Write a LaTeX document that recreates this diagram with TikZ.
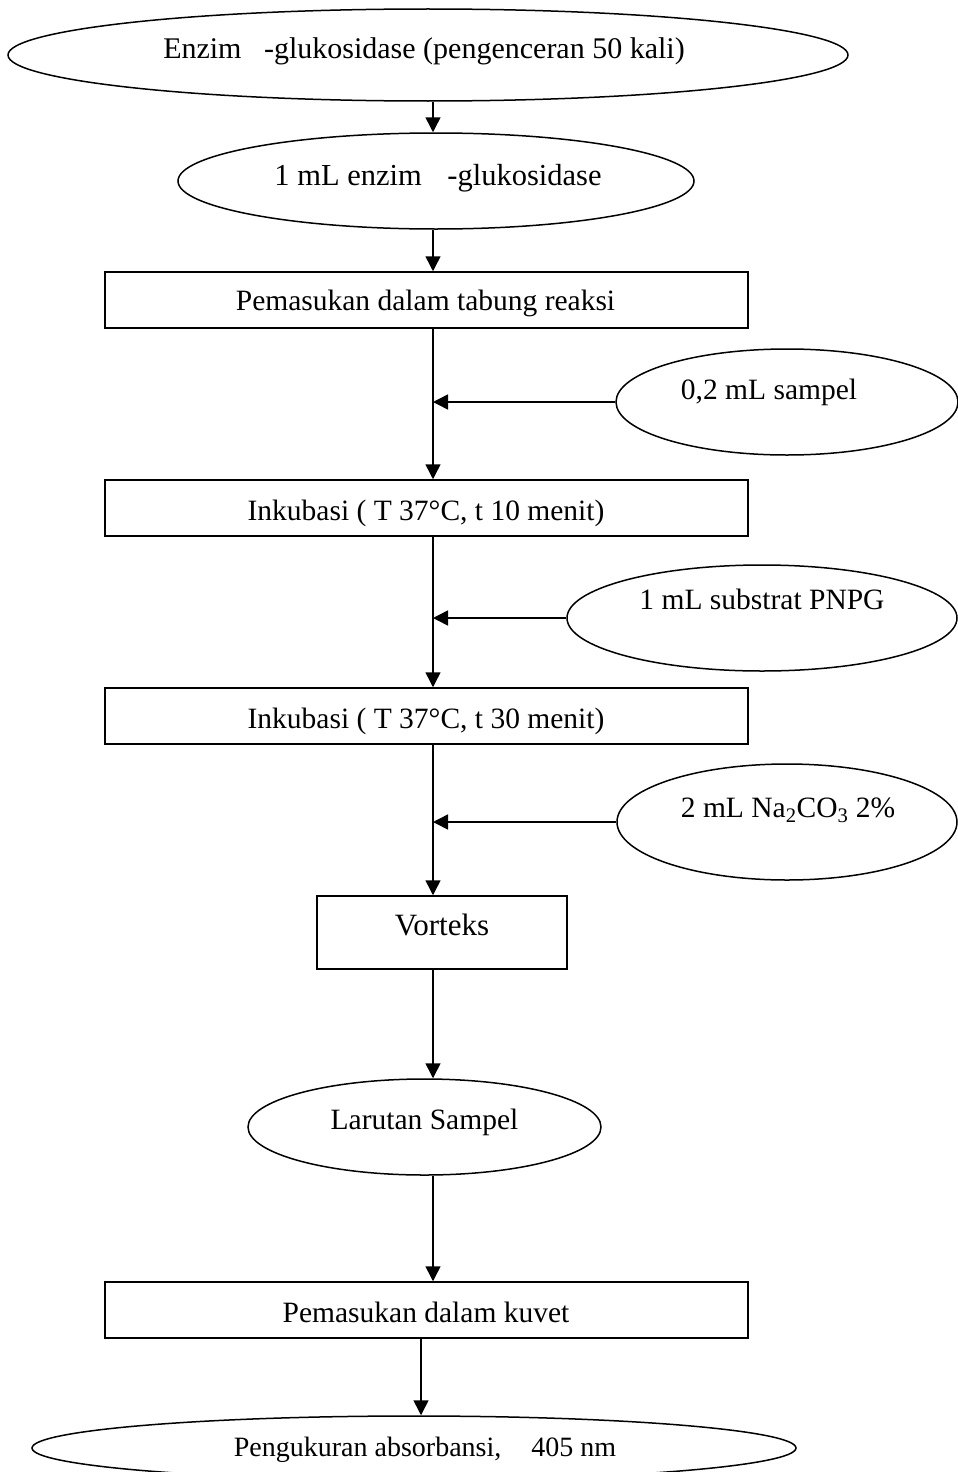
\documentclass[tikz,border=0pt]{standalone}
\usepackage{fontspec}
\setmainfont{Liberation Serif}
\usetikzlibrary{arrows.meta,shapes.geometric}
\begin{document}
\begin{tikzpicture}[x=1pt,y=-1pt,
  every node/.style={font=\fontsize{29.5pt}{34pt}\selectfont},
  frame/.style={draw, line width=1.5pt, inner sep=0pt},
  oval/.style={frame, ellipse},
  stepbox/.style={frame, rectangle, minimum width=643pt, minimum height=56pt},
  txt/.style={anchor=base, inner sep=0pt},
  arr/.style={line width=1.5pt, -{Triangle[length=15pt,width=15pt]}}
]
\useasboundingbox (0,0) rectangle (958,1472);

% main flow column
\coordinate (m) at (433,0);
\coordinate (mb) at (421,0);

% shapes
\node[oval, minimum width=840pt, minimum height=92pt] (top) at (428,55) {};
\node[oval, minimum width=516pt, minimum height=96pt] (enz) at (436,181) {};
\node[stepbox] (b1) at (426.5,300) {};
\node[oval, minimum width=342pt, minimum height=106pt] (s1) at (787,402) {};
\node[stepbox] (b2) at (426.5,508) {};
\node[oval, minimum width=390pt, minimum height=106pt] (s2) at (762,618) {};
\node[stepbox] (b3) at (426.5,716) {};
\node[oval, minimum width=340pt, minimum height=116pt] (s3) at (787,822) {};
\node[frame, rectangle, minimum width=250pt, minimum height=73pt] (vx) at (442,932.5) {};
\node[oval, minimum width=353pt, minimum height=96pt] (lar) at (424.5,1127) {};
\node[stepbox] (b4) at (426.5,1310) {};
\node[oval, minimum width=764pt, minimum height=64pt] (bot) at (414,1448) {};

% texts
\node[txt, font=\fontsize{30pt}{35pt}\selectfont] (ttop) at (424,59) {Enzim \hspace{15pt}-glukosidase (pengenceran 50 kali)};
\node[txt, font=\fontsize{30.5pt}{35pt}\selectfont] (tenz) at (438,185) {1 mL enzim \hspace{18pt}-glukosidase};
\node[txt] (tb1) at (425.5,310) {Pemasukan dalam tabung reaksi};
\node[txt] (ts1) at (769,399) {0,2 mL sampel};
\node[txt] (tb2) at (426,520) {Inkubasi ( T 37°C, t 10 menit)};
\node[txt] (ts2) at (762,609) {1 mL substrat PNPG};
\node[txt] (tb3) at (426,728) {Inkubasi ( T 37°C, t 30 menit)};
\node[txt] (ts3) at (788,817) {2 mL Na\textsubscript{2}CO\textsubscript{3} 2\%};
\node[txt, font=\fontsize{31pt}{36pt}\selectfont] (tvx) at (442,935) {Vorteks};
\node[txt] (tlar) at (424.5,1129) {Larutan Sampel};
\node[txt] (tb4) at (426,1322) {Pemasukan dalam kuvet};
\node[txt, font=\fontsize{28pt}{33pt}\selectfont] (tbot) at (425,1456) {Pengukuran absorbansi, \hspace{16pt} 405 nm};

% connectors
\draw[arr] (top.south -| m) -- (enz.north -| m);
\draw[arr] (enz.south -| m) -- (b1.north -| m);
\draw[arr] (b1.south -| m) -- (b2.north -| m);
\draw[arr] (s1.west) -- (s1.west -| m);
\draw[arr] (b2.south -| m) -- (b3.north -| m);
\draw[arr] (s2.west) -- (s2.west -| m);
\draw[arr] (b3.south -| m) -- (vx.north -| m);
\draw[arr] (s3.west) -- (s3.west -| m);
\draw[arr] (vx.south -| m) -- (lar.north -| m);
\draw[arr] (lar.south -| m) -- (b4.north -| m);
\draw[arr] (b4.south -| mb) -- (bot.north -| mb);
\end{tikzpicture}
\end{document}
